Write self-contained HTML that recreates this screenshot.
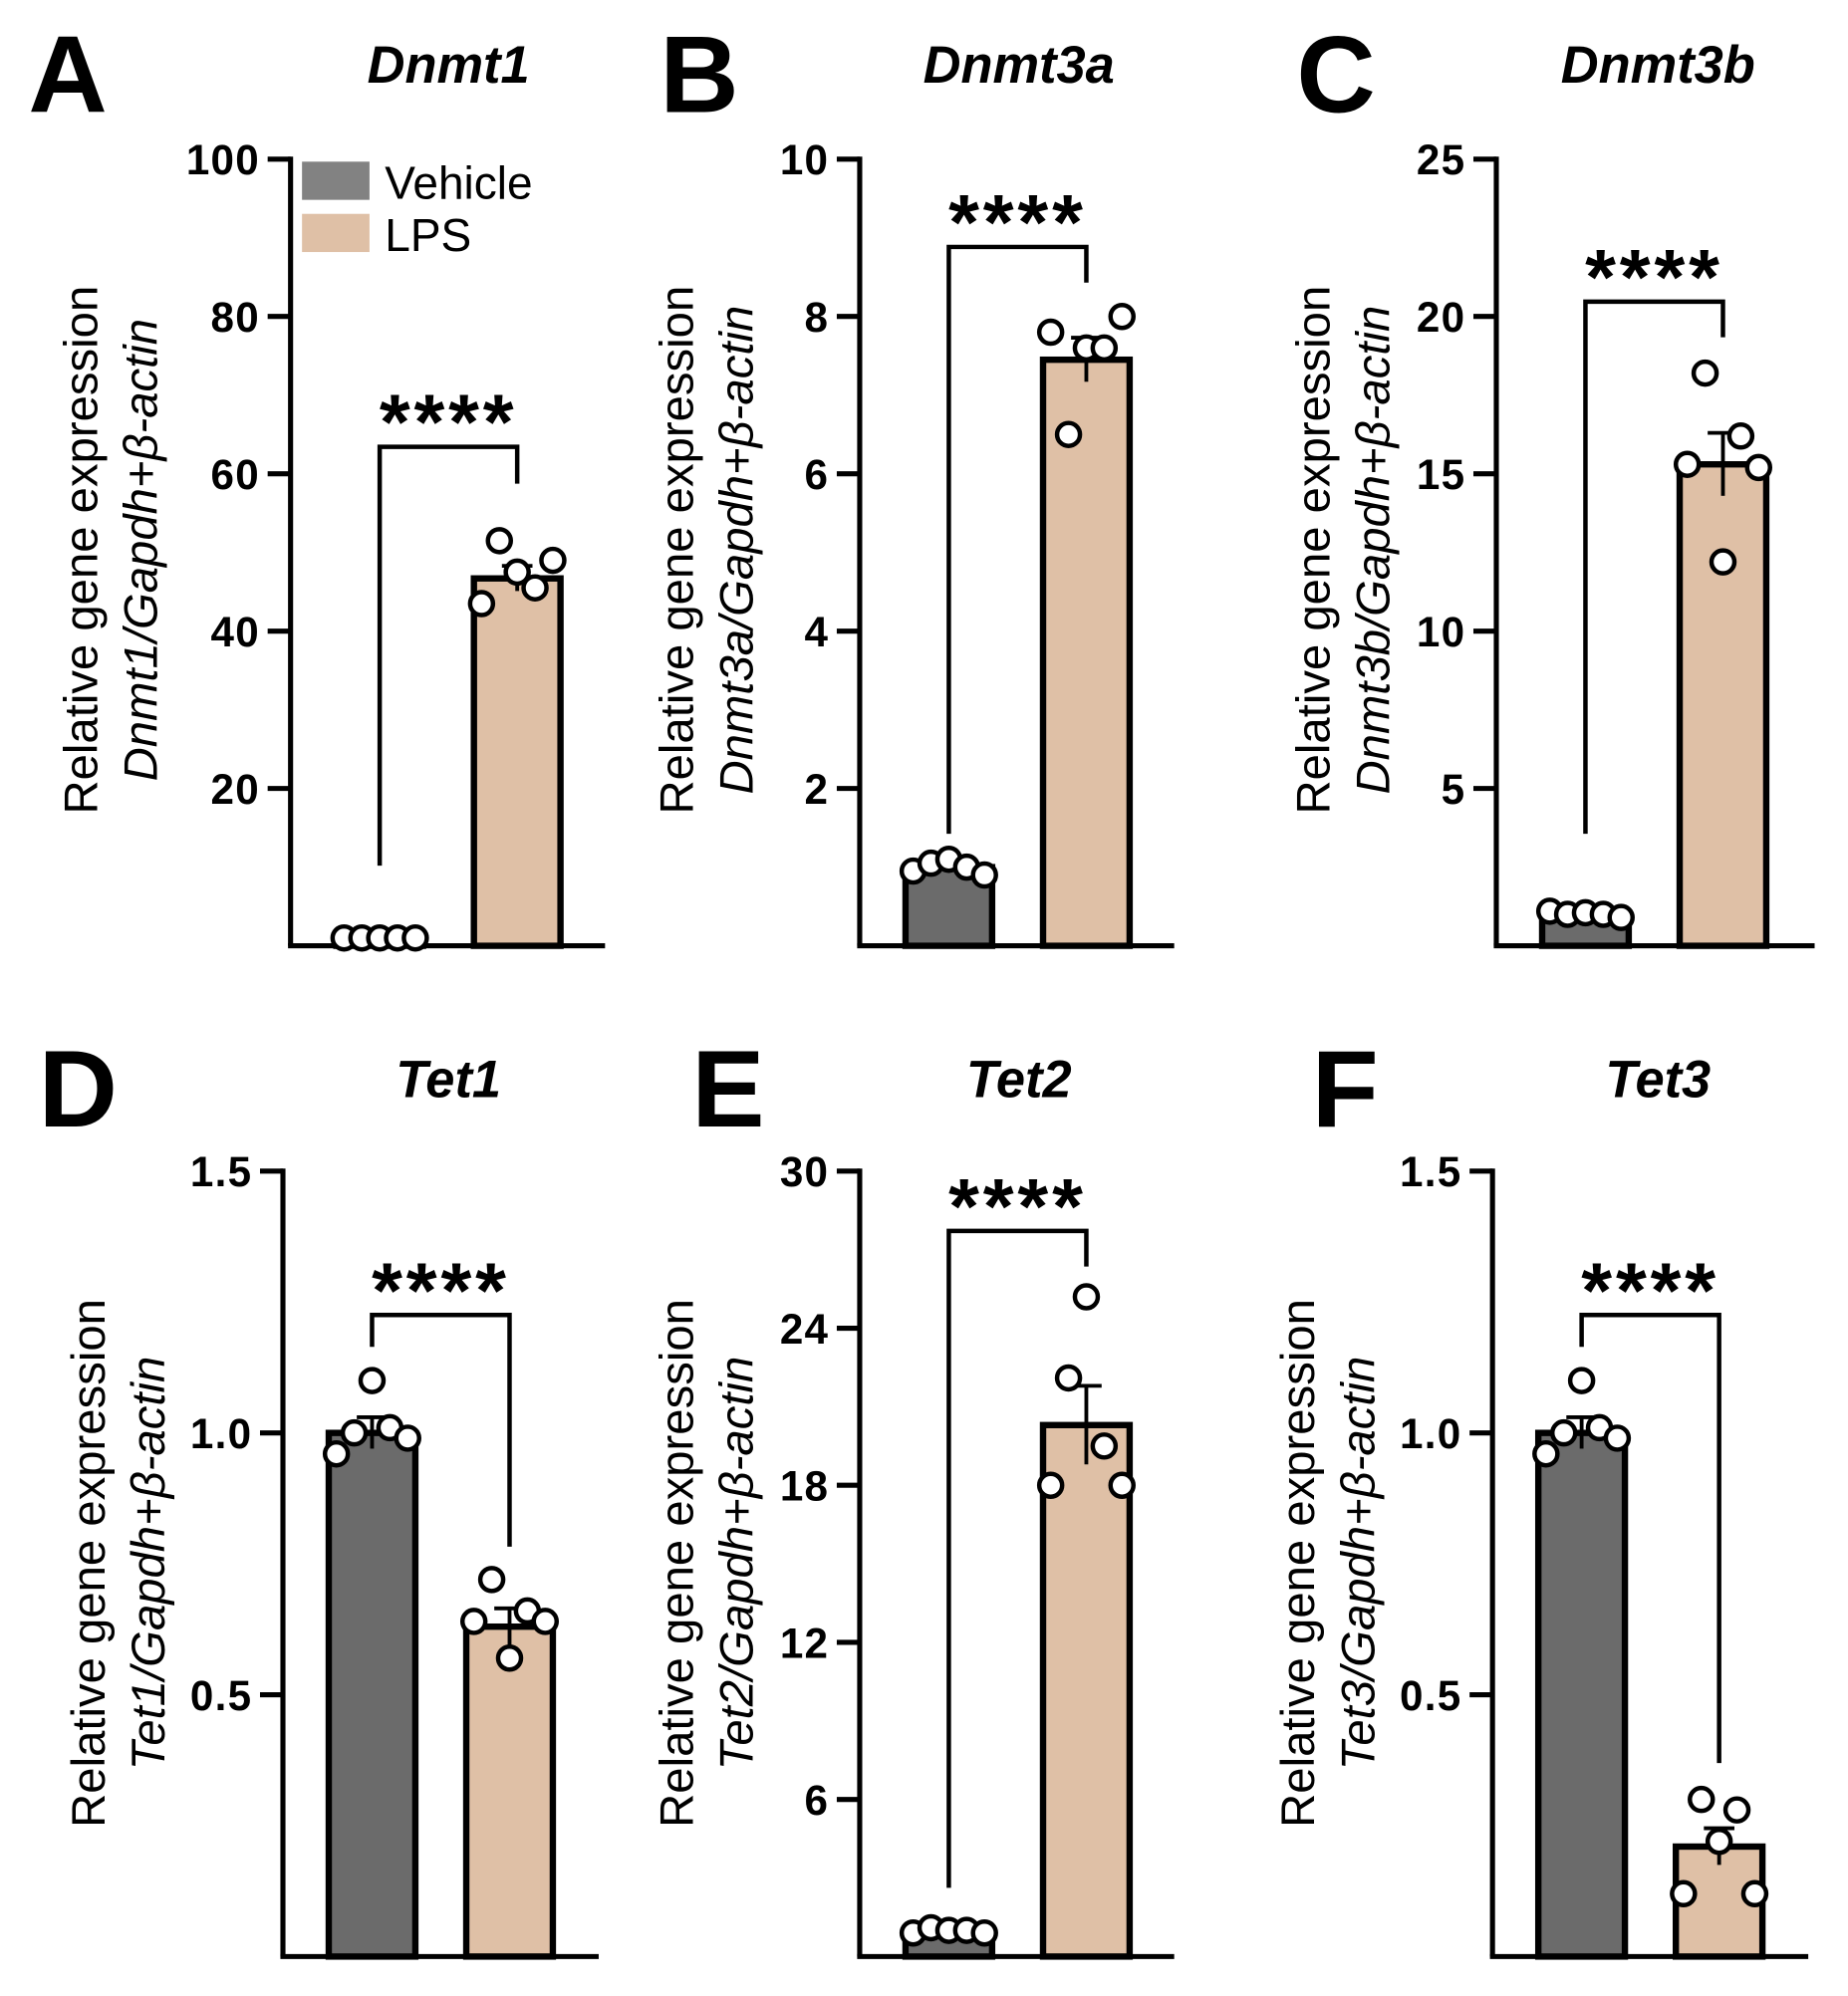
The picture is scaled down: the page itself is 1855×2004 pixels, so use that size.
<!DOCTYPE html>
<html><head><meta charset="utf-8"><style>
html,body{margin:0;padding:0;background:#fff}
svg{display:block}
text{font-family:"Liberation Sans",sans-serif}
</style></head><body>
<svg id="fig" width="1855" height="2004" viewBox="0 0 1451 1568" xmlns="http://www.w3.org/2000/svg"></svg>
<script>
// ---- data ----
const panelLetters = ["A","B","C","D","E","F"];
const panelTitles = ["Dnmt1","Dnmt3a","Dnmt3b","Tet1","Tet2","Tet3"];
const yAxisGenes = ["Dnmt1","Dnmt3a","Dnmt3b","Tet1","Tet2","Tet3"];
const yMaxes = [100,10,25,1.5,30,1.5];
const tickLists = [[20,40,60,80,100],[2,4,6,8,10],[5,10,15,20,25],[0.5,1.0,1.5],[6,12,18,24,30],[0.5,1.0,1.5]];
const tickLabels = [["20","40","60","80","100"],["2","4","6","8","10"],["5","10","15","20","25"],["0.5","1.0","1.5"],["6","12","18","24","30"],["0.5","1.0","1.5"]];
const categories = ["Vehicle","LPS"];
const vehicleMeans = [1.0,1.0,1.0,1.0,1.0,1.0];
const lpsMeans = [46.7,7.45,15.3,0.63,20.3,0.21];
const vehicleSEM = [0.1,0.04,0.1,0.03,0.2,0.03];
const lpsSEM = [1.6,0.28,1.0,0.035,1.5,0.035];
const vehiclePoints = [[1,1,1,1,1],[0.95,1.05,1.1,1.0,0.9],[1.1,1.0,1.05,1.0,0.9],[0.96,1.0,1.1,1.01,0.99],[0.9,1.1,1.0,1.0,0.9],[0.96,1.0,1.1,1.01,0.99]];
const lpsPoints = [[43.5,51.5,47.5,45.5,49],[7.8,6.5,7.6,7.6,8.0],[15.3,18.2,12.2,16.2,15.2],[0.64,0.72,0.57,0.66,0.64],[18.0,22.1,25.2,19.5,18.0],[0.12,0.30,0.22,0.28,0.12]];
const bracketLow = [680,655,655,1058,1483,1058];
const bracketRightLow = [380,222,265,1215,995,1385];

// ---- layout ----
const axX=[228,675,1175,222,675,1172], topY=[125,125,125,920,920,920], botY=[743,743,743,1537,1537,1537];
const xEnd=[475,922,1425,470,922,1420];
const labX=[62,530,1030,68,530,1018], labY=[432,432,432,1228,1228,1228];
const letX=[22,518,1018,30,543,1030], letY=[88,88,88,885,885,885];
const titleX=[352,800,1302,352,800,1302], titleY=[65,65,65,862,862,862];
const svg=document.getElementById('fig'), NS="http://www.w3.org/2000/svg";
function mk(tag,attrs,parent,txt){const e=document.createElementNS(NS,tag);for(const k in attrs)e.setAttribute(k,attrs[k]);if(txt!==undefined)e.textContent=txt;(parent||svg).appendChild(e);return e;}
const offs=[-28,-14,0,14,28];
for(let p=0;p<6;p++){
  const g=mk('g',{});
  
  
  const ys=v=>botY[p]-(v/yMaxes[p])*(botY[p]-topY[p]);
  const cV=axX[p]+70, cL=axX[p]+178, bw=68;
  const L=mk('text',{x:letX[p],y:letY[p],'font-size':86,'font-weight':'bold'},g,panelLetters[p]);
  
  const T=mk('text',{x:titleX[p],y:titleY[p],'font-size':41,'font-weight':'bold','font-style':'italic','text-anchor':'middle'},g,panelTitles[p]);
  
  const yl=mk('text',{transform:`translate(${labX[p]},${labY[p]}) rotate(-90)`,'font-size':37,'text-anchor':'middle'},g);
  
  mk('tspan',{x:0,y:14},yl,'Relative gene expression');
  mk('tspan',{x:0,y:61,'font-style':'italic'},yl,yAxisGenes[p]+'/Gapdh+β-actin');
  const ya=mk('line',{x1:axX[p],y1:topY[p]-2,x2:axX[p],y2:botY[p],stroke:'#000','stroke-width':4},g);
  
  const xa=mk('line',{x1:axX[p]-2,y1:botY[p],x2:xEnd[p],y2:botY[p],stroke:'#000','stroke-width':4},g);
  
  tickLists[p].forEach((v,i)=>{
    const y=ys(v);
    mk('line',{x1:axX[p]-18,y1:y,x2:axX[p],y2:y,stroke:'#000','stroke-width':4},g);
    const tl=mk('text',{x:axX[p]-24,y:y+12,'font-size':33,'font-weight':'bold','text-anchor':'end','letter-spacing':1},g,tickLabels[p][i]);
    
  });
  [[cV,vehicleMeans[p],vehicleSEM[p],'#6b6b6b',vehiclePoints[p],'bar-vehicle'],[cL,lpsMeans[p],lpsSEM[p],'#dfc0a6',lpsPoints[p],'bar-lps']].forEach(([c,m,s,col,pts,nm])=>{
    const y=ys(m);
    const b=mk('rect',{x:c-bw/2,y:y,width:bw,height:botY[p]-y,fill:col,stroke:'#000','stroke-width':5},g);
    
    mk('line',{x1:c,y1:ys(m+s),x2:c,y2:ys(m-s),stroke:'#000','stroke-width':3},g);
    mk('line',{x1:c-12,y1:ys(m+s),x2:c+12,y2:ys(m+s),stroke:'#000','stroke-width':3},g);
    pts.forEach((v,i)=>{
      const pt=mk('circle',{cx:c+offs[i],cy:ys(v),r:9,fill:'#fff',stroke:'#000','stroke-width':3.5},g);
      
    });
  });
  const top=p<3?[351,194,237][p]:[1033,967,1033][p-3];
  const br=mk('path',{d:`M${cV},${bracketLow[p]} V${top} H${cL} V${bracketRightLow[p]}`,fill:'none',stroke:'#000','stroke-width':3.5},g);
  
  const st=mk('text',{x:(cV+cL)/2,y:top+2,'font-size':62,'font-weight':'bold','text-anchor':'middle','letter-spacing':3},g,'****');
  
}
const lg=mk('g',{});

const l1=mk('rect',{x:237,y:127,width:53,height:30,fill:'#828282'},lg);

const l2=mk('rect',{x:237,y:168,width:53,height:30,fill:'#dfc0a6'},lg);

const e1=mk('text',{x:302,y:156,'font-size':36},lg,categories[0]);

const e2=mk('text',{x:302,y:197,'font-size':36},lg,categories[1]);

</script>
</body></html>
